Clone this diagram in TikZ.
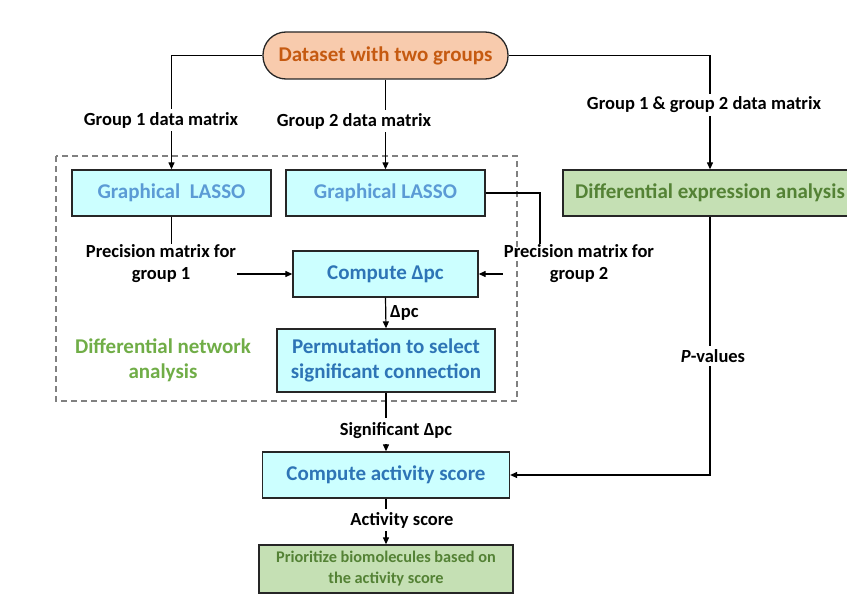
\documentclass[tikz,border=0pt]{standalone}
\usepackage{fontspec}
\setmainfont{Carlito}
\usetikzlibrary{arrows.meta}
\definecolor{edgec}{HTML}{262626}
\definecolor{peach}{HTML}{F8CBAD}
\definecolor{orangetxt}{HTML}{C55A11}
\definecolor{cyanfill}{HTML}{CCFFFF}
\definecolor{lblue}{HTML}{5B9BD5}
\definecolor{dblue}{HTML}{2E75B6}
\definecolor{gfill}{HTML}{C5E0B4}
\definecolor{gtxt}{HTML}{548235}
\definecolor{lgreen}{HTML}{70AD47}
\begin{document}
\begin{tikzpicture}[x=1pt,y=-1pt,
  boxbase/.style={draw=edgec, line width=1.3pt, inner sep=2pt, align=center,
    font=\bfseries\fontsize{21}{25}\selectfont},
  cbox/.style={boxbase, fill=cyanfill, text=dblue},
  gbox/.style={boxbase, fill=gfill, text=gtxt},
  lbl/.style={font=\bfseries\fontsize{18.5}{22}\selectfont, text=black, align=center, inner sep=1pt},
  wlbl/.style={lbl, fill=white, inner ysep=3pt},
  conn/.style={draw=black, line width=1.2pt},
  arr/.style={conn, -{Triangle[length=7pt,width=6pt]}}
]
\useasboundingbox (0,0) rectangle (847,610);

% dashed group
\draw[draw=gray, line width=1.2pt, dash pattern=on 6pt off 4pt] (56,156) rectangle (517,401);

\node[boxbase, fill=peach, text=orangetxt, rounded corners=23pt, minimum width=245pt, minimum height=47pt] (ds) at (385.5,55.5) {Dataset with two groups};

\node[cbox, text=lblue, minimum width=199pt, minimum height=46pt] (gl1) at (171.5,193) {Graphical\ \ LASSO};
\node[cbox, text=lblue, minimum width=199pt, minimum height=46pt] (gl2) at (385.5,193) {Graphical LASSO};
\node[gbox, minimum width=294pt, minimum height=46pt] (dea) at (710,193) {Differential expression analysis};
\node[cbox, minimum width=185pt, minimum height=46pt] (cmp) at (385.5,274) {Compute Δpc};
\node[cbox, minimum width=218pt, minimum height=63pt] (perm) at (386,360.5) {Permutation to select\\significant connection};
\node[cbox, minimum width=247pt, minimum height=46pt] (act) at (386,475) {Compute activity score};
\node[gbox, minimum width=254pt, minimum height=48pt, font=\bfseries\fontsize{16.3}{21}\selectfont] (pri) at (386,569) {Prioritize biomolecules based on\\the activity score};

\node[font=\bfseries\fontsize{21}{25}\selectfont, text=lgreen, align=center] (dna) at (163,360.5) {Differential network\\analysis};

% labels for the inner arrows
\node[lbl] (pm1) at (161,264) {Precision matrix for\\group 1};
\node[lbl] (pm2) at (579,264) {Precision matrix for\\group 2};
\node[lbl, anchor=west] (dpc) at (389,313) {Δpc};

% connectors
\draw[arr] (ds.west) -| (gl1.north);
\draw[arr] (ds.south) -- (gl2.north);
\draw[arr] (ds.east) -| (dea.north);
\draw[conn] (gl1.south) -- (gl1.south |- pm1.north);
\draw[arr] (pm1.east |- cmp.west) -- (cmp.west);
\draw[conn] (gl2.east) -| (540,0 |- pm2.north);
\draw[arr] (pm2.west |- cmp.east) -- (cmp.east);
\draw[arr] (cmp.south) -- (perm.north);
\draw[arr] (perm.south) -- (act.north);
\draw[arr] (dea.south) |- (act.east);
\draw[arr] (act.south) -- (pri.north);

% labels over the connectors
\node[wlbl] (g1) at (161,120) {Group 1 data matrix};
\node[wlbl] (g2) at (354,121) {Group 2 data matrix};
\node[wlbl] (g12) at (704,105) {Group 1 \& group 2 data matrix};
\node[wlbl, inner ysep=5pt] (sig) at (396,431) {Significant Δpc};
\node[wlbl] (pv) at (713,356) {\textit{P}-values};
\node[wlbl] (as) at (402,520) {Activity score};
\end{tikzpicture}
\end{document}
